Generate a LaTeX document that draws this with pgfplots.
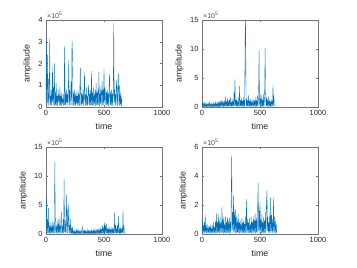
\documentclass[border=0pt]{standalone}
\usepackage{pgfplots}
\pgfplotsset{compat=1.18}
\usepackage{fontspec}
\setmainfont{Liberation Sans}
\definecolor{mblue}{RGB}{0,114,189}
\pgfplotsset{mat/.style={
  width=116bp,height=87bp,scale only axis,
  xmin=0,xmax=1000,ymin=0,
  xtick={0,500,1000},
  scaled ticks=false,
  /pgf/number format/1000 sep={},
  /pgf/number format/assume math mode=true,
  tick align=inside,major tick length=2bp,
  axis line style={black!55},tick style={black!55},
  ticklabel style={font=\fontsize{7.5}{8}\selectfont,text=black!85},
  label style={font=\fontsize{8.8}{10}\selectfont,text=black!85},
  xlabel=time,ylabel=amplitude,
  clip mode=individual}}
\tikzset{sig/.style={mblue,no marks,line width=0.35pt}}
\newcommand{\scalelabel}{\node[anchor=base west,font=\fontsize{7}{8}\selectfont,text=black!70,inner sep=0pt,xshift=1bp,yshift=1.5bp] at (rel axis cs:0,1) {×10\raisebox{0.45em}{\fontsize{5}{6}\selectfont 5}};}
\begin{document}
\begin{tikzpicture}
\path[use as bounding box] (0,0) rectangle (357bp,268bp);
% top-left
\begin{axis}[mat,at={(46bp,161bp)},anchor=south west,ymax=4,ytick={0,1,2,3,4}]
\addplot[sig] coordinates {(0,0.3)(4,3.2)(8,0.1)(12,2.4)(16,0.2)(20,1.3)(24,0.05)(28,0.6)(32,3.15)(36,0.1)(40,0.5)(44,0.05)(48,0.8)(52,0.1)(56,1.85)(60,0.2)(64,0.9)(68,0.05)(72,2.0)(76,0.1)(80,0.7)(84,0.05)(88,1.1)(92,0.1)(96,0.5)(100,0.05)(104,0.8)(108,0.2)(112,0.6)(116,0.05)(120,0.9)(124,0.1)(128,0.5)(132,0.05)(136,0.7)(140,0.15)(144,0.4)(148,0.05)(152,0.6)(156,0.1)(160,2.8)(164,0.1)(168,0.7)(172,0.05)(176,0.8)(180,0.2)(184,0.6)(188,0.05)(192,0.7)(196,2.15)(200,0.1)(204,0.8)(208,0.05)(212,0.6)(216,1.2)(220,0.1)(224,3.1)(228,2.5)(232,0.1)(236,0.7)(240,0.05)(244,0.8)(248,0.1)(252,0.6)(256,0.05)(260,0.7)(264,0.15)(268,0.5)(272,0.05)(276,0.8)(280,0.1)(284,0.6)(288,0.05)(292,0.9)(296,1.8)(300,0.1)(304,0.7)(308,0.05)(312,0.6)(316,0.15)(320,0.8)(324,0.05)(328,0.7)(332,1.6)(336,0.1)(340,0.6)(344,0.05)(348,0.9)(352,0.1)(356,0.5)(360,0.05)(364,0.7)(368,1.0)(372,0.1)(376,0.6)(380,0.05)(384,0.8)(388,0.1)(392,1.65)(396,0.05)(400,0.7)(404,0.1)(408,0.9)(412,0.05)(416,0.6)(420,0.15)(424,0.8)(428,0.05)(432,1.1)(436,0.1)(440,0.7)(444,0.05)(448,0.8)(452,0.1)(456,1.6)(460,0.05)(464,0.6)(468,0.15)(472,0.9)(476,0.05)(480,0.7)(484,1.2)(488,0.1)(492,0.8)(496,0.05)(500,1.8)(504,0.15)(508,0.9)(512,0.6)(516,0.1)(520,0.7)(524,0.05)(528,0.8)(532,0.1)(536,0.6)(540,0.05)(544,1.0)(548,1.5)(552,0.1)(556,0.7)(560,0.05)(564,0.8)(568,0.1)(572,0.6)(576,0.05)(580,0.9)(584,3.85)(588,0.2)(592,0.8)(596,0.05)(600,0.6)(604,0.1)(608,1.25)(612,0.7)(616,0.05)(620,1.0)(624,1.55)(628,0.1)(632,1.0)(636,0.05)(640,0.7)(644,0.1)(648,0.5)(652,0.05)(655,0.4)};
\scalelabel
\end{axis}
% top-right
\begin{axis}[mat,at={(202bp,161bp)},anchor=south west,ymax=15,ytick={0,5,10,15}]
\addplot[sig] coordinates {(0,0.3)(4,0.8)(8,0.1)(12,0.6)(16,0.05)(20,0.7)(24,0.1)(28,0.5)(32,0.05)(36,0.6)(40,0.1)(44,0.4)(48,0.05)(52,0.7)(56,0.1)(60,0.5)(64,0.05)(68,1.0)(72,0.1)(76,0.4)(80,0.05)(84,0.6)(88,0.1)(92,0.5)(96,0.05)(100,0.7)(104,0.1)(108,0.6)(112,0.05)(116,0.8)(120,0.1)(124,0.5)(128,0.05)(132,0.9)(136,0.1)(140,0.6)(144,0.05)(148,1.0)(152,0.1)(156,0.7)(160,0.05)(164,1.2)(168,0.1)(172,0.8)(176,0.05)(180,1.1)(184,0.1)(188,0.7)(192,0.05)(196,1.2)(200,0.1)(204,1.8)(208,0.1)(212,0.9)(216,0.05)(220,1.5)(224,0.1)(228,1.0)(232,0.05)(236,1.3)(240,0.1)(244,1.7)(248,0.1)(252,0.9)(256,0.05)(260,1.4)(264,0.1)(268,1.0)(272,0.05)(276,2.7)(280,0.1)(284,4.8)(288,0.2)(292,1.2)(296,0.05)(300,1.5)(304,0.1)(308,1.0)(312,0.05)(316,1.6)(320,0.1)(324,3.6)(328,0.2)(332,1.2)(336,0.05)(340,1.5)(344,0.1)(348,1.0)(352,0.05)(356,1.7)(360,0.1)(364,1.2)(368,0.05)(372,12.5)(376,15)(380,0.3)(384,1.5)(388,0.05)(392,1.2)(396,0.1)(400,2.0)(404,0.1)(408,1.0)(412,0.05)(416,1.4)(420,0.1)(424,1.0)(428,0.05)(432,1.2)(436,0.1)(440,0.8)(444,0.05)(448,1.5)(452,0.1)(456,1.0)(460,0.05)(464,1.7)(468,0.1)(472,1.2)(476,0.05)(480,2.0)(484,0.1)(488,2.7)(492,9.7)(496,0.3)(500,2.5)(504,0.1)(508,1.5)(512,0.05)(516,2.0)(520,0.1)(524,1.3)(528,0.05)(532,2.2)(536,0.1)(540,2.5)(544,10.1)(548,2.6)(552,0.1)(556,1.8)(560,0.05)(564,1.3)(568,0.1)(572,1.8)(576,0.05)(580,1.2)(584,0.1)(588,1.0)(592,0.05)(596,1.4)(600,0.1)(604,1.0)(608,0.05)(612,3.8)(616,0.2)(620,2.0)(624,0.1)};
\scalelabel
\end{axis}
% bottom-left
\begin{axis}[mat,at={(46bp,34bp)},anchor=south west,ymax=15,ytick={0,5,10,15}]
\addplot[sig] coordinates {(0,0.5)(4,6.5)(8,0.2)(12,2.5)(16,0.1)(20,4.5)(24,0.2)(28,1.5)(32,0.1)(36,2.0)(40,0.1)(44,1.2)(48,0.05)(52,2.3)(56,0.1)(60,1.5)(64,0.1)(68,2.0)(72,0.2)(76,12.4)(80,3.0)(84,0.2)(88,1.5)(92,0.1)(96,2.2)(100,0.1)(104,1.8)(108,0.05)(112,3.0)(116,0.1)(120,1.5)(124,0.1)(128,2.0)(132,3.8)(136,0.2)(140,1.5)(144,0.1)(148,2.5)(152,0.2)(156,9.4)(160,0.3)(164,2.5)(168,0.1)(172,1.8)(176,6.8)(180,0.2)(184,4.2)(188,0.1)(192,2.0)(196,5.2)(200,0.2)(204,1.5)(208,0.1)(212,2.5)(216,0.1)(220,1.0)(224,0.05)(228,1.2)(232,0.1)(236,0.5)(240,0.05)(244,0.6)(248,0.1)(252,0.4)(256,0.05)(260,0.6)(264,0.1)(268,0.8)(272,0.05)(276,0.5)(280,0.1)(284,0.6)(288,0.05)(292,0.4)(296,0.1)(300,0.5)(304,0.05)(308,0.6)(312,1.5)(316,0.1)(320,0.5)(324,0.05)(328,0.7)(332,0.1)(336,0.5)(340,0.05)(344,0.6)(348,0.1)(352,0.4)(356,0.05)(360,0.7)(364,0.1)(368,0.5)(372,0.05)(376,0.6)(380,0.1)(384,0.5)(388,0.05)(392,0.7)(396,0.1)(400,0.5)(404,0.05)(408,0.6)(412,0.1)(416,0.8)(420,0.05)(424,0.5)(428,0.1)(432,0.7)(436,0.05)(440,0.6)(444,0.1)(448,0.9)(452,0.05)(456,0.6)(460,0.1)(464,0.8)(468,0.05)(472,1.0)(476,0.1)(480,0.7)(484,0.05)(488,1.5)(492,0.1)(496,1.2)(500,0.05)(504,2.0)(508,0.2)(512,1.5)(516,0.1)(520,1.8)(524,0.1)(528,1.0)(532,0.05)(536,0.8)(540,0.1)(544,1.2)(548,0.05)(552,0.9)(556,0.1)(560,0.7)(564,0.05)(568,1.2)(572,0.1)(576,0.8)(580,0.05)(584,1.0)(588,0.1)(592,3.7)(596,0.2)(600,1.5)(604,0.1)(608,1.0)(612,0.05)(616,1.5)(620,0.2)(624,3.1)(628,0.1)(632,0.8)(636,0.05)(640,1.2)(644,0.1)(648,0.9)(652,0.05)(656,1.0)(660,0.1)(664,4.1)(668,0.2)(672,1.5)(676,0.1)};
\scalelabel
\end{axis}
% bottom-right
\begin{axis}[mat,at={(202bp,34bp)},anchor=south west,ymax=6,ytick={0,2,4,6}]
\addplot[sig] coordinates {(0,0.2)(4,1.0)(8,0.05)(12,0.6)(16,0.1)(20,0.8)(24,0.05)(28,1.3)(32,0.1)(36,0.6)(40,0.05)(44,0.7)(48,0.1)(52,0.4)(56,0.05)(60,0.6)(64,0.1)(68,0.5)(72,0.05)(76,0.7)(80,0.1)(84,0.4)(88,0.05)(92,0.6)(96,0.1)(100,0.8)(104,0.05)(108,0.5)(112,0.1)(116,0.9)(120,0.05)(124,1.4)(128,0.1)(132,0.8)(136,0.05)(140,1.4)(144,0.1)(148,0.9)(152,0.05)(156,1.2)(160,0.1)(164,0.8)(168,0.05)(172,1.9)(176,0.1)(180,1.0)(184,0.05)(188,1.2)(192,0.1)(196,0.7)(200,0.05)(204,1.2)(208,0.1)(212,0.8)(216,0.05)(220,1.2)(224,0.1)(228,0.9)(232,0.05)(236,1.1)(240,0.1)(244,0.8)(248,0.05)(252,2.7)(256,5.4)(260,0.3)(264,1.5)(268,0.1)(272,2.7)(276,0.2)(280,1.6)(284,0.1)(288,1.7)(292,0.05)(296,1.2)(300,0.1)(304,0.9)(308,0.05)(312,1.4)(316,0.1)(320,0.8)(324,0.05)(328,1.0)(332,0.1)(336,0.7)(340,0.05)(344,1.1)(348,0.1)(352,0.8)(356,0.05)(360,1.0)(364,0.1)(368,0.7)(372,0.05)(376,1.2)(380,0.1)(384,2.4)(388,0.2)(392,1.0)(396,0.05)(400,0.8)(404,0.1)(408,1.1)(412,0.05)(416,0.7)(420,0.1)(424,1.2)(428,0.05)(432,0.8)(436,0.1)(440,1.0)(444,0.05)(448,1.3)(452,0.1)(456,0.9)(460,0.05)(464,1.4)(468,0.1)(472,1.1)(476,0.05)(480,2.0)(484,3.5)(488,0.2)(492,1.6)(496,0.1)(500,2.2)(504,0.1)(508,1.0)(512,0.05)(516,1.4)(520,0.1)(524,0.8)(528,0.05)(532,1.2)(536,0.1)(540,0.9)(544,0.05)(548,1.5)(552,0.1)(556,2.3)(560,3.0)(564,0.2)(568,1.2)(572,0.1)(576,0.8)(580,0.05)(584,1.4)(588,0.1)(592,2.5)(596,0.2)(600,1.3)(604,0.05)(608,1.0)(612,0.1)(616,2.5)(620,0.2)(624,1.2)(628,0.05)(632,0.9)(636,0.1)(640,0.7)(644,0.05)};
\scalelabel
\end{axis}
\end{tikzpicture}
\end{document}
